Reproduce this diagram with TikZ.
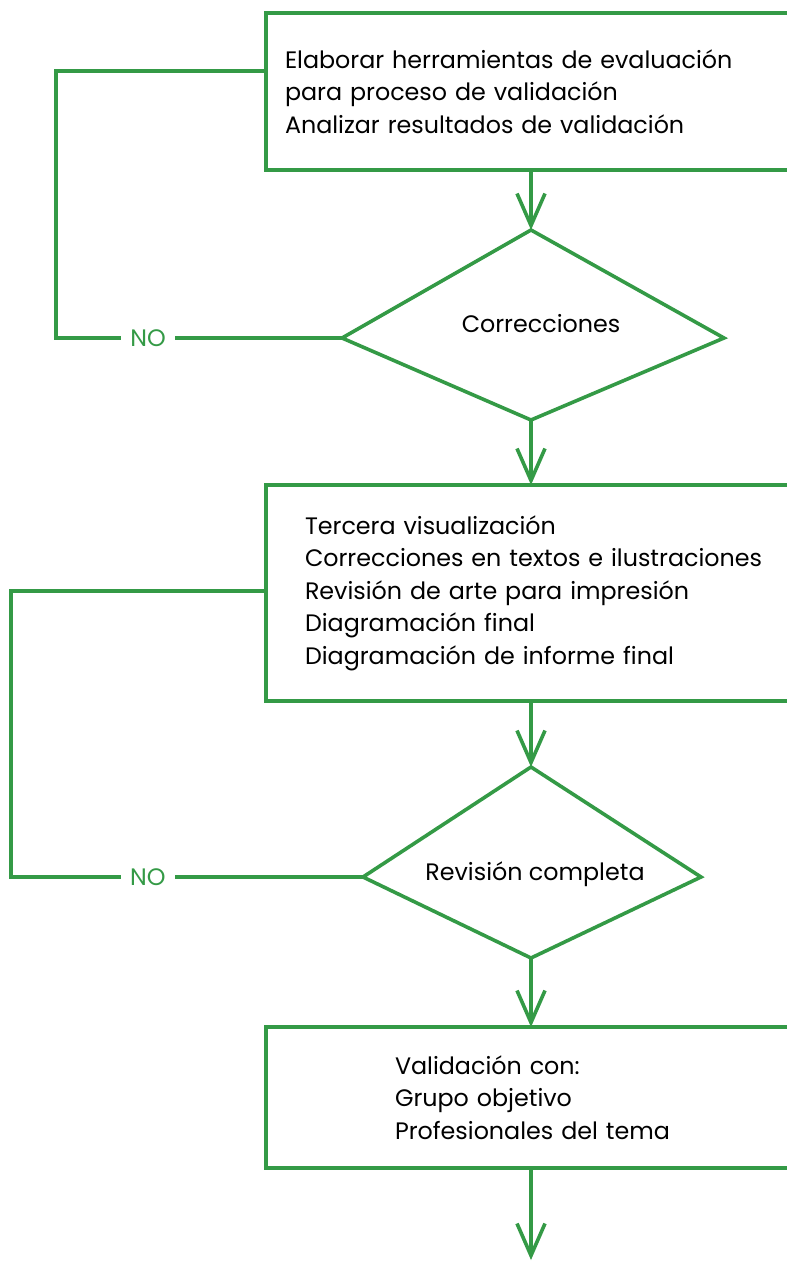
\documentclass[tikz,border=0pt]{standalone}
\usepackage{fontspec}
\setmainfont{Poppins}
\usetikzlibrary{arrows.meta}
\definecolor{flowgreen}{RGB}{52,154,70}

\begin{document}
\begin{tikzpicture}
  [x=1pt, y=-1pt, font=\fontsize{23.8}{32.5}\selectfont,
  box/.style={draw=flowgreen, line width=3.6pt, outer sep=0pt, anchor=north west, align=left, text width=600pt, inner ysep=0pt},
  flow/.style={draw=flowgreen, line width=3.6pt, -{Straight Barb[length=32pt, width=28pt]}},
  loopline/.style={draw=flowgreen, line width=3.6pt},
  nolabel/.style={text=flowgreen, fill=white, inner xsep=9pt, inner ysep=2pt}]
  \useasboundingbox (0,0) rectangle (787,1262);
  \clip (0,0) rectangle (787,1262);
  \node[box, inner xsep=19pt, minimum height=157pt] (herram) at (266,13)
    {Elaborar herramientas de evaluación\\para proceso de validación\\Analizar resultados de validación};
  \coordinate (corrT) at (531,230);
  \coordinate (corrR) at (724,338);
  \coordinate (corrB) at (531,420);
  \coordinate (corrL) at (342,338);
  \draw[loopline] (corrT) -- (corrR) -- (corrB) -- (corrL) -- cycle;
  \node[anchor=base] (corr) at (541,332) {Correcciones};
  \node[box, inner xsep=39pt, minimum height=216pt] (tercera) at (266,485)
    {Tercera visualización\\Correcciones en textos e ilustraciones\\Revisión de arte para impresión\\Diagramación final\\Diagramación de informe final};
  \coordinate (revT) at (531,767);
  \coordinate (revR) at (701,877);
  \coordinate (revB) at (531,958);
  \coordinate (revL) at (363,877);
  \draw[loopline] (revT) -- (revR) -- (revB) -- (revL) -- cycle;
  \node[anchor=base] (rev) at (535,880) {Revisión completa};
  \node[box, inner xsep=129pt, minimum height=141pt] (valid) at (266,1027)
    {Validación con:\\Grupo objetivo\\Profesionales del tema};
  \coordinate (fin) at (531,1260);
  \coordinate (loopA) at (56,338);
  \coordinate (loopB) at (56,71);
  \coordinate (loopC) at (11,877);
  \coordinate (loopD) at (11,591);

  \draw[flow] (herram.south -| corrT) -- (corrT);
  \draw[flow] (corrB) -- (tercera.north -| corrB);
  \draw[flow] (tercera.south -| revT) -- (revT);
  \draw[flow] (revB) -- (valid.north -| revB);
  \draw[flow] (valid.south -| fin) -- (fin);
  \draw[loopline] (corrL) -- node[nolabel, pos=0.678] (no1) {NO} (loopA) -- (loopB) -- (loopB -| herram.west);
  \draw[loopline] (revL) -- node[nolabel, pos=0.611] (no2) {NO} (loopC) -- (loopD) -- (loopD -| tercera.west);
\end{tikzpicture}
\end{document}
